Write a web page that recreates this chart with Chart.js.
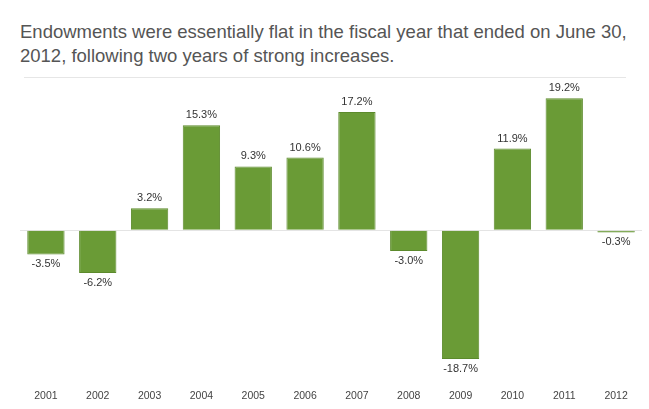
<!DOCTYPE html>
<html lang="en">
<head>
  <meta charset="UTF-8">
  <title>Endowment returns</title>
  <script src="https://cdn.jsdelivr.net/npm/chart.js"></script>
  <style>
    body {
      margin: 0;
      background: #fff;
      font-family: Arial, 'Liberation Sans', sans-serif;
      width: 649px;
      height: 409px;
      position: relative;
      overflow: hidden;
    }
    .title {
      position: absolute;
      left: 20px;
      top: 20px;
      font-size: 18.5px;
      line-height: 24px;
      color: #555;
      white-space: nowrap;
    }
    .rule {
      position: absolute;
      left: 24px;
      top: 77px;
      width: 602px;
      border-top: 1px solid #e6e6e6;
    }
    .chart-box {
      position: absolute;
      left: 0;
      top: 78px;
      width: 649px;
      height: 338px;
    }
  </style>
</head>
<body>
  <div class="title">Endowments were essentially flat in the fiscal year that ended on June 30,<br>2012, following two years of strong increases.</div>
  <div class="rule"></div>
  <div class="chart-box"><canvas id="chart"></canvas></div>

  <script>
    // данные
    const years = ['2001','2002','2003','2004','2005','2006','2007','2008','2009','2010','2011','2012'];
    const returns = [-3.5, -6.2, 3.2, 15.3, 9.3, 10.6, 17.2, -3.0, -18.7, 11.9, 19.2, -0.3];

    // подписи над / под столбцами
    const valueLabels = {
      id: 'valueLabels',
      afterDatasetsDraw(chart) {
        const ctx = chart.ctx;
        const meta = chart.getDatasetMeta(0);
        ctx.save();
        ctx.font = '11px Arial, "Liberation Sans", sans-serif';
        ctx.fillStyle = '#333';
        ctx.textAlign = 'center';
        ctx.textBaseline = 'middle';
        meta.data.forEach((bar, i) => {
          const v = returns[i];
          const y = v >= 0 ? bar.y - 10 : bar.y + 10;
          ctx.fillText(v.toFixed(1) + '%', bar.x, y);
        });
        ctx.restore();
      }
    };

    new Chart(document.getElementById('chart'), {
      type: 'bar',
      data: {
        labels: years,
        datasets: [{
          data: returns,
          backgroundColor: '#6a9b36',
          borderColor: '#5c8a2c',
          borderWidth: 1,
          categoryPercentage: 0.72,
          barPercentage: 1
        }]
      },
      options: {
        responsive: true,
        maintainAspectRatio: false,
        animation: false,
        layout: { padding: { left: 20, right: 7, top: 8, bottom: 0 } },
        plugins: {
          legend: { display: false },
          tooltip: { enabled: false }
        },
        scales: {
          x: {
            grid: { display: false, drawTicks: false },
            border: { display: false },
            ticks: {
              color: '#444',
              padding: 14,
              font: { family: 'Arial, "Liberation Sans", sans-serif', size: 10.5 },
              maxRotation: 0
            }
          },
          y: {
            display: true,
            min: -21.1,
            max: 21,
            ticks: { display: false },
            border: { display: false },
            grid: {
              drawTicks: false,
              color: ctx => ctx.tick && ctx.tick.value === 0 ? '#e4e4e4' : 'rgba(0,0,0,0)'
            },
            afterBuildTicks: axis => { axis.ticks = [{ value: 0 }]; }
          }
        }
      },
      plugins: [valueLabels]
    });
  </script>
</body>
</html>
